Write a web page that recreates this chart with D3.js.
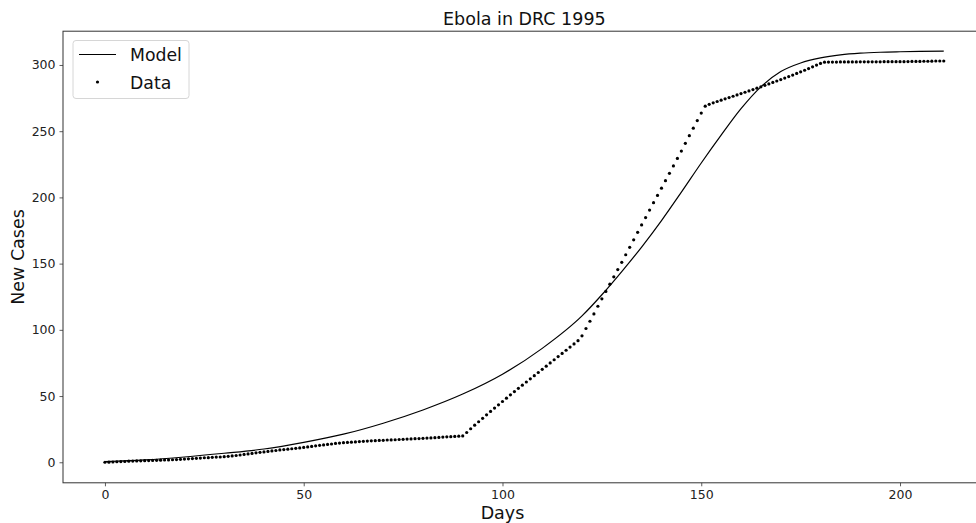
<!DOCTYPE html>
<html>
<head>
<meta charset="utf-8">
<script src="https://cdn.jsdelivr.net/npm/d3@7"></script>
<style>
  html, body { margin: 0; padding: 0; background: #fff; }
  svg { display: block; font-family: "DejaVu Sans", sans-serif; }
</style>
</head>
<body>
<svg id="chart" width="976" height="523"></svg>
<script>
// Cumulative reported cases, one value per day starting at day 0
const dataCases = [
  0, 0.1, 0.2, 0.4, 0.5, 0.6, 0.8, 0.9, 1.0, 1.1,
  1.2, 1.3, 1.4, 1.5, 1.6, 1.7, 1.8, 1.9, 2.0, 2.2,
  2.4, 2.6, 2.8, 3.0, 3.2, 3.4, 3.5, 3.7, 3.9, 4.0,
  4.2, 4.5, 4.8, 5.1, 5.5, 5.9, 6.3, 6.7, 7.1, 7.5,
  7.8, 8.2, 8.6, 8.9, 9.3, 9.6, 9.9, 10.2, 10.5, 10.8,
  11.2, 11.6, 12.0, 12.4, 12.8, 13.1, 13.5, 13.8, 14.2, 14.5,
  14.8, 15.0, 15.2, 15.4, 15.6, 15.8, 16.0, 16.2, 16.3, 16.5,
  16.6, 16.8, 16.9, 17.0, 17.2, 17.3, 17.5, 17.6, 17.8, 17.9,
  18.1, 18.3, 18.4, 18.6, 18.8, 19.0, 19.2, 19.3, 19.5, 19.7,
  19.9, 22.5, 25.3, 28.0, 30.6, 33.2, 35.8, 38.4, 40.9, 43.4,
  45.9, 48.4, 50.9, 53.4, 55.8, 58.2, 60.6, 63.0, 65.4, 67.8,
  70.2, 72.6, 75.0, 77.4, 79.8, 82.2, 84.6, 87.0, 89.4, 91.8,
  95.5, 101.0, 106.5, 112.0, 117.8, 123.4, 129.0, 134.5, 140.0, 145.5,
  151.0, 156.7, 162.3, 168.0, 173.6, 179.2, 184.8, 190.4, 196.0, 201.5,
  207.0, 212.6, 218.2, 223.8, 229.4, 235.0, 240.8, 246.6, 252.3, 258.0,
  263.7, 268.9, 270.3, 271.4, 272.4, 273.4, 274.4, 275.4, 276.4, 277.4,
  278.4, 279.4, 280.4, 281.4, 282.5, 283.5, 284.6, 285.7, 286.8, 287.9,
  289.0, 290.1, 291.2, 292.4, 293.6, 294.8, 296.0, 297.3, 298.6, 299.9,
  301.2, 302.1, 302.2, 302.2, 302.2, 302.3, 302.3, 302.3, 302.3, 302.3,
  302.4, 302.4, 302.4, 302.4, 302.4, 302.4, 302.5, 302.5, 302.5, 302.5,
  302.5, 302.5, 302.6, 302.7, 302.7, 302.7, 302.8, 302.8, 302.9, 303.0,
  303.0, 303.0
];

// Fitted model curve, sampled days and values
const modelDays = [0, 10, 20, 30, 40, 50, 60, 70, 80, 90, 100, 110, 120, 125, 130, 135, 140, 145,
                   150, 155, 160, 165, 170, 175, 180, 185, 190, 195, 200, 205, 211];
const modelValues = [0.5, 1.8, 4.0, 6.8, 10.0, 15.0, 21.2, 29.5, 39.5, 51.5, 66.5, 86.0, 110.5, 126.5,
                     144.0, 162.5, 182.5, 204.0, 226.0, 247.0, 267.0, 283.5, 295.0, 301.5, 305.3,
                     307.6, 308.9, 309.6, 310.0, 310.3, 310.5];

const xTicks = [0, 50, 100, 150, 200];
const yTicks = [0, 50, 100, 150, 200, 250, 300];

const svg = d3.select("#chart");
const plot = { left: 63, right: 985.7, top: 31.2, bottom: 482.8 };

const x = d3.scaleLinear().domain([-10.55, 221.55]).range([plot.left, plot.right]);
const y = d3.scaleLinear().domain([-15.5, 325.5]).range([plot.bottom, plot.top]);

// Axes
const xAxis = svg.append("g")
  .attr("transform", `translate(0,${plot.bottom})`)
  .call(d3.axisBottom(x).tickValues(xTicks).tickSize(3.5).tickPadding(4).tickFormat(d3.format("d")));
const yAxis = svg.append("g")
  .attr("transform", `translate(${plot.left},0)`)
  .call(d3.axisLeft(y).tickValues(yTicks).tickSize(3.5).tickPadding(4).tickFormat(d3.format("d")));

[xAxis, yAxis].forEach(g => {
  g.select(".domain").remove();
  g.selectAll(".tick line").attr("stroke", "#333").attr("stroke-width", 0.8);
  g.selectAll(".tick text").attr("fill", "#222").style("font-size", "12.5px")
    .style("font-family", "DejaVu Sans, sans-serif");
});

// Frame
svg.append("rect")
  .attr("x", plot.left).attr("y", plot.top)
  .attr("width", plot.right - plot.left).attr("height", plot.bottom - plot.top)
  .attr("fill", "none").attr("stroke", "#333").attr("stroke-width", 1);

// Model line
const line = d3.line()
  .x((d, i) => x(modelDays[i]))
  .y(d => y(d))
  .curve(d3.curveMonotoneX);
svg.append("path")
  .datum(modelValues)
  .attr("d", line)
  .attr("fill", "none")
  .attr("stroke", "#000")
  .attr("stroke-width", 1.2);

// Data points
svg.append("g").selectAll("circle")
  .data(dataCases)
  .join("circle")
  .attr("cx", (d, i) => x(i))
  .attr("cy", d => y(d))
  .attr("r", 1.6)
  .attr("fill", "#000");

// Titles
svg.append("text")
  .attr("x", (plot.left + plot.right) / 2).attr("y", 25)
  .attr("text-anchor", "middle").style("font-size", "17.5px").attr("fill", "#111")
  .text("Ebola in DRC 1995");
svg.append("text")
  .attr("x", x(100)).attr("y", 519)
  .attr("text-anchor", "middle").style("font-size", "17.5px").attr("fill", "#111")
  .text("Days");
svg.append("text")
  .attr("transform", `translate(24,${(plot.top + plot.bottom) / 2}) rotate(-90)`)
  .attr("text-anchor", "middle").style("font-size", "17.5px").attr("fill", "#111")
  .text("New Cases");

// Legend
const legend = svg.append("g");
legend.append("rect")
  .attr("x", 73).attr("y", 40.5).attr("width", 116).attr("height", 58)
  .attr("rx", 3).attr("fill", "#fff").attr("fill-opacity", 0.8)
  .attr("stroke", "#d6d6d6").attr("stroke-width", 1);
legend.append("line")
  .attr("x1", 79).attr("x2", 116).attr("y1", 54.5).attr("y2", 54.5)
  .attr("stroke", "#000").attr("stroke-width", 1.2);
legend.append("circle").attr("cx", 97.5).attr("cy", 82).attr("r", 1.6).attr("fill", "#000");
legend.append("text").attr("x", 130).attr("y", 61).style("font-size", "17.3px").attr("fill", "#111").text("Model");
legend.append("text").attr("x", 130).attr("y", 88.5).style("font-size", "17.3px").attr("fill", "#111").text("Data");
</script>
</body>
</html>
